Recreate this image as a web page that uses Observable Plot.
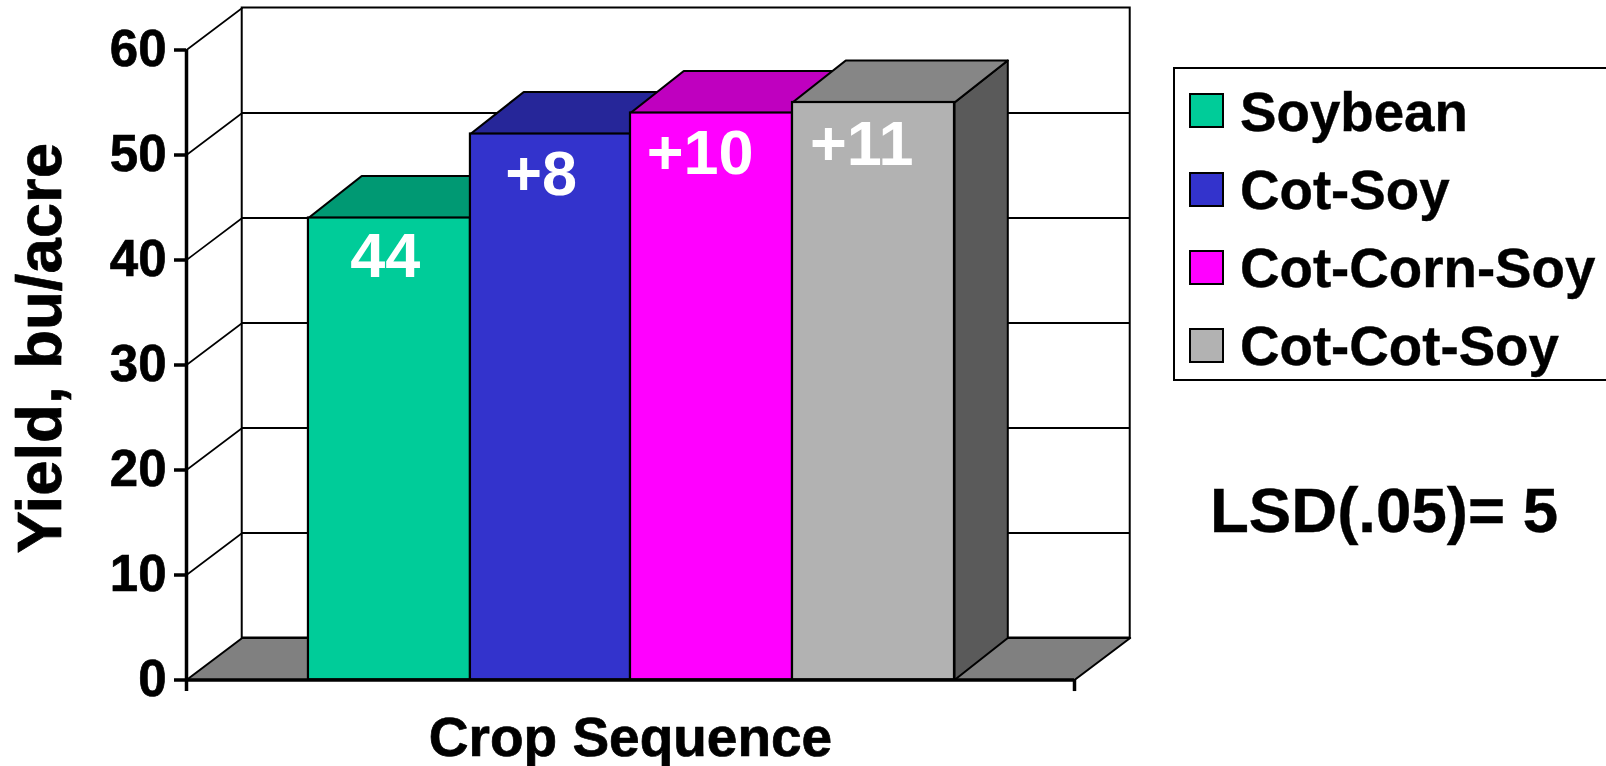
<!DOCTYPE html>
<html>
<head>
<meta charset="utf-8">
<script src="https://cdn.jsdelivr.net/npm/d3@7"></script>
<script src="https://cdn.jsdelivr.net/npm/@observablehq/plot@0.6"></script>
<style>
  html, body { margin: 0; padding: 0; background: #fff; overflow: hidden; width: 1606px; height: 766px; }
  #chart { position: absolute; left: 0; top: 0; }
  #chart g[aria-label="y-axis tick label"] text { stroke: #000; stroke-width: 0.7px; }
  .t { position: absolute; font-family: "Liberation Sans", Arial, sans-serif; font-weight: bold; color: #000; white-space: nowrap; line-height: 1; -webkit-text-stroke: 0.4px #000; }
  #legend { position: absolute; left: 1173px; top: 67px; width: 500px; height: 310px; border: 2px solid #000; box-sizing: content-box; }
  .sw { position: absolute; width: 31px; height: 31px; border: 2px solid #000; }
</style>
</head>
<body>
<div id="chart"></div>
<div id="legend"></div>
<div class="t" id="lsd"></div>
<script>
// ---- data ----
const sequences = ["Soybean", "Cot-Soy", "Cot-Corn-Soy", "Cot-Cot-Soy"];
const yields = [44, 52, 54, 55];
const barLabels = ["44", "+8", "+10", "+11"];
const yTicks = [0, 10, 20, 30, 40, 50, 60];
const frontColors = ["#00CC99", "#3333CC", "#FF00FF", "#B2B2B2"];
const topColors = ["#009973", "#262699", "#BF00BF", "#868686"];
const yLabel = "Yield, bu/acre";
const xLabel = "Crop Sequence";
const lsdNote = "LSD(.05)= 5";

// ---- layout ----
const xLo = -0.755, xHi = 4.743;      // floor front edge, in bar widths
const wallX = 0.345, wallY = 4;       // depth of the walls
const barX = 0.33, barY = 4;          // depth of a bar
const edges = [0, 1.003, 1.994, 2.997, 4];
const sideColor = "#5A5A5A", floorColor = "#808080";
const font = "'Liberation Sans', Arial, sans-serif";
const labelNudge = [[-4, 0], [-9.5, 0], [-12, 0], [-12, 0]];
const labelDy = [39, 40.5, 41, 42.5];

const poly = (pts, fill, sw = 2) => Plot.line(pts, {
  x: d => d[0], y: d => d[1], curve: "linear-closed",
  fill, stroke: "#000", strokeWidth: sw, strokeLinejoin: "round"
});

const bars = sequences.map((name, i) => ({name, i, v: yields[i], a: edges[i], b: edges[i + 1]}));

const barMarks = bars.flatMap(d => [
  poly([[d.b, 0], [d.b + barX, barY], [d.b + barX, d.v + barY], [d.b, d.v]], sideColor),
  poly([[d.a, d.v], [d.a + barX, d.v + barY], [d.b + barX, d.v + barY], [d.b, d.v]], topColors[d.i], 2.2),
  Plot.rect([d], {x1: d => d.a, x2: d => d.b, y1: 0, y2: d => d.v, fill: d => d.name, stroke: "#000", strokeWidth: 2.2})
]);

const chart = Plot.plot({
  width: 1606, height: 766,
  marginLeft: 186, marginRight: 532, marginTop: 49.5, marginBottom: 86.5,
  style: {fontFamily: font, background: "transparent", overflow: "visible"},
  x: {domain: [xLo, xHi], axis: null},
  y: {domain: [0, 60]},
  color: {domain: sequences, range: frontColors},
  marks: [
    // back wall frame and gridlines
    Plot.rect([0], {x1: xLo + wallX, x2: xHi + wallX, y1: wallY, y2: 60 + wallY, fill: "#fff", stroke: "#000", strokeWidth: 2}),
    Plot.ruleY(yTicks.filter(v => v > 0 && v < 60), {x1: xLo + wallX, x2: xHi + wallX, y: v => v + wallY, stroke: "#000", strokeWidth: 2}),
    // side wall diagonals
    ...yTicks.filter(v => v > 0).map(v => Plot.line([[xLo, v], [xLo + wallX, v + wallY]], {x: d => d[0], y: d => d[1], stroke: "#000", strokeWidth: 1.6})),
    // floor
    poly([[xLo, 0], [xLo + wallX, wallY], [xHi + wallX, wallY], [xHi, 0]], floorColor),
    // bars
    ...barMarks,
    // axes
    Plot.ruleX([xLo], {y1: 60, y2: -1.1, stroke: "#000", strokeWidth: 3.5}),
    Plot.ruleY([0], {x1: xLo, x2: xHi, stroke: "#000", strokeWidth: 3.5}),
    Plot.ruleX([xHi], {y1: 0, y2: -1.1, stroke: "#000", strokeWidth: 3.5}),
    Plot.axisY({ticks: yTicks, tickSize: 12, tickPadding: 8, fontSize: 51, fontWeight: "bold", strokeWidth: 3.5, label: null}),
    // axis titles
    Plot.text([yLabel], {x: xLo, y: 31.6, dx: -146, rotate: -90, text: d => d, fontSize: 63.5, fontWeight: "bold", fill: "#000", stroke: "#000", strokeWidth: 0.7}),
    Plot.text([xLabel], {x: (xLo + xHi) / 2, y: 0, dy: 58, text: d => d, fontSize: 55, fontWeight: "bold", fill: "#000", stroke: "#000", strokeWidth: 0.7}),
    // bar labels
    ...barLabels.map((t, i) => Plot.text([t], {
      x: i + 0.5, y: yields[i], dx: labelNudge[i][0], dy: labelDy[i],
      text: d => d, fontSize: 63, fontWeight: "bold", fill: "#fff"
    }))
  ]
});
document.getElementById("chart").append(chart);

// ---- legend and note ----
const legend = document.getElementById("legend");
const swTops = [24, 102.5, 180.5, 258.5];
const txtTops = [16, 94, 172, 250];
sequences.forEach((name, i) => {
  const s = document.createElement("div");
  s.className = "sw";
  s.style.left = "14px";
  s.style.top = swTops[i] + "px";
  s.style.background = frontColors[i];
  legend.append(s);
  const t = document.createElement("div");
  t.className = "t";
  t.style.left = "65px";
  t.style.top = txtTops[i] + "px";
  t.style.fontSize = "54.7px";
  t.textContent = name;
  legend.append(t);
});
const lsd = document.getElementById("lsd");
lsd.textContent = lsdNote;
lsd.style.left = "1210px";
lsd.style.top = "478px";
lsd.style.fontSize = "63.6px";
</script>
</body>
</html>
